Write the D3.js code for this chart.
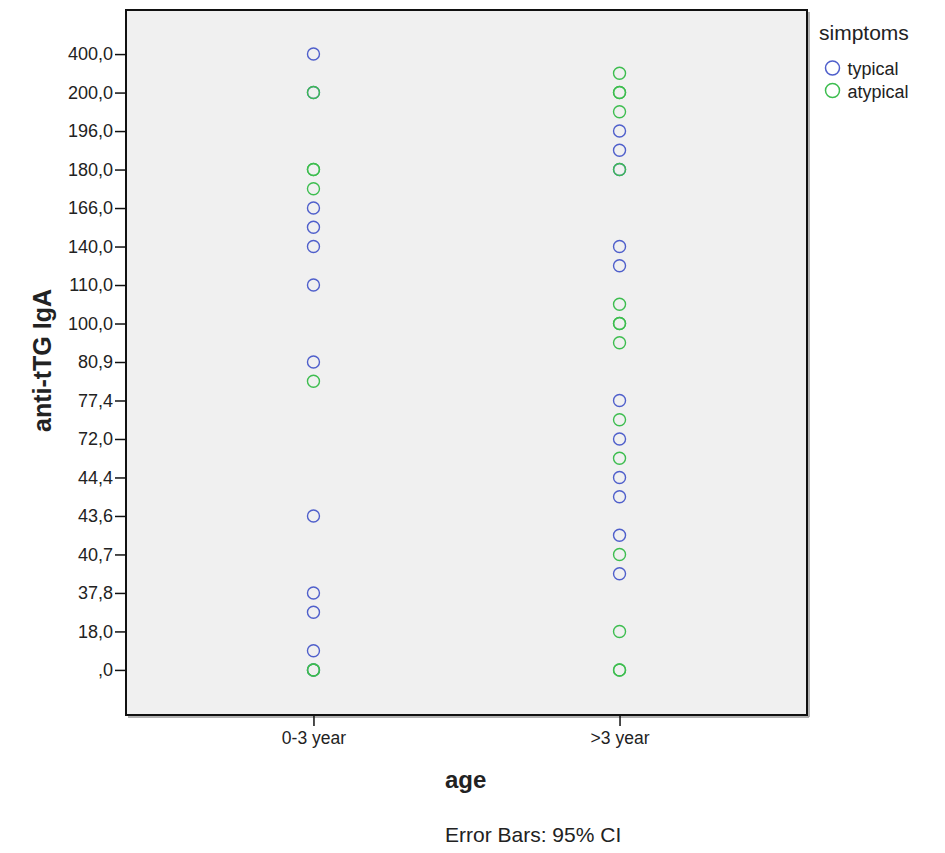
<!DOCTYPE html>
<html><head><meta charset="utf-8">
<script src="https://cdn.jsdelivr.net/npm/d3@7"></script>
<style>body{margin:0;background:#fff;} text{font-family:Arial,"Liberation Sans",sans-serif;fill:#222;}</style>
</head><body><svg id="c" width="945" height="853"></svg>
<script>
const ageGroups = ["0-3 year", ">3 year"];
const symptoms = ["typical", "atypical"];
const symptomColors = ["#4f5fcb", "#3dbd4f"];
// ordered value levels (bottom -> top); every second level is labelled, the others are unlabelled
const yLevelLabels = [",0","","18,0","","37,8","","40,7","","43,6","","44,4","","72,0","","77,4","","80,9","",
  "100,0","","110,0","","140,0","","166,0","","180,0","","196,0","","200,0","","400,0"];
// points as level indices per group
const young_typical  = [32,30,24,23,22,20,16,8,4,3,1,0];
const young_atypical = [30,26,26,25,15,0,0];
const old_typical    = [28,27,26,22,21,14,12,10,9,7,5];
const old_atypical   = [31,30,30,29,26,19,18,18,17,13,11,6,2,0,0];

const series = [
  {age: ageGroups[0], sym: 0, levels: young_typical},
  {age: ageGroups[1], sym: 0, levels: old_typical},
  {age: ageGroups[0], sym: 1, levels: young_atypical},
  {age: ageGroups[1], sym: 1, levels: old_atypical}
];
const points = series.flatMap(s => s.levels.map(l => ({age: s.age, sym: s.sym, level: l})));

const svg = d3.select("#c");
const L = 126, R = 807, T = 10, B = 715;

const x = d3.scalePoint().domain(ageGroups).range([L, R]).padding(0.6125);
const y = d3.scalePoint().domain(d3.range(yLevelLabels.length)).range([B - 1, T]).padding(2.29);

// plot background & frame
svg.append("line").attr("x1", R + 2).attr("x2", R + 2).attr("y1", T + 2).attr("y2", B + 2).attr("stroke", "#999").attr("stroke-width", 1.5);
svg.append("line").attr("x1", L + 2).attr("x2", R + 2).attr("y1", B + 2).attr("y2", B + 2).attr("stroke", "#999").attr("stroke-width", 1.5);
svg.append("rect").attr("x", L).attr("y", T).attr("width", R - L).attr("height", B - T)
  .attr("fill", "#f0f0f0").attr("stroke", "#111").attr("stroke-width", 2);

// y axis
const yAxis = d3.axisLeft(y)
  .tickValues(d3.range(0, yLevelLabels.length, 2))
  .tickFormat(i => yLevelLabels[i])
  .tickSize(11).tickPadding(2);
const gy = svg.append("g").attr("transform", `translate(${L},0)`).call(yAxis);
gy.select(".domain").remove();
gy.selectAll(".tick line").attr("stroke", "#111").attr("stroke-width", 1.5);
gy.selectAll(".tick text").style("font-size", "18px").attr("fill", "#222");

// x axis
const xAxis = d3.axisBottom(x).tickSize(11).tickPadding(6);
const gx = svg.append("g").attr("transform", `translate(0,${B})`).call(xAxis);
gx.select(".domain").remove();
gx.selectAll(".tick line").attr("stroke", "#111").attr("stroke-width", 1.5);
gx.selectAll(".tick text").style("font-size", "17.5px").attr("fill", "#222");

// points
svg.append("g").selectAll("circle").data(points).join("circle")
  .attr("cx", d => x(d.age))
  .attr("cy", d => y(d.level))
  .attr("r", 6)
  .attr("fill", "none")
  .attr("stroke", d => symptomColors[d.sym])
  .attr("stroke-width", 1.4);

// axis titles
svg.append("text").attr("transform", "translate(51,360.5) rotate(-90)")
  .attr("text-anchor", "middle").style("font-size", "25px").style("font-weight", "bold").attr("fill", "#111")
  .text("anti-tTG IgA");
svg.append("text").attr("x", 445).attr("y", 788)
  .style("font-size", "24px").style("font-weight", "bold").attr("fill", "#111").text("age");
svg.append("text").attr("x", 445).attr("y", 842)
  .style("font-size", "21px").attr("fill", "#222").text("Error Bars: 95% CI");

// legend
svg.append("text").attr("x", 819).attr("y", 40).style("font-size", "21px").attr("fill", "#222").text("simptoms");
const lg = svg.append("g").selectAll("g").data(symptoms).join("g")
  .attr("transform", (d, i) => `translate(832.5,${68 + i * 22.5})`);
lg.append("circle").attr("r", 7).attr("fill", "none")
  .attr("stroke", (d, i) => symptomColors[i]).attr("stroke-width", 1.5);
lg.append("text").attr("x", 15).attr("y", 7).style("font-size", "18px").attr("fill", "#222").text(d => d);
</script></body></html>
